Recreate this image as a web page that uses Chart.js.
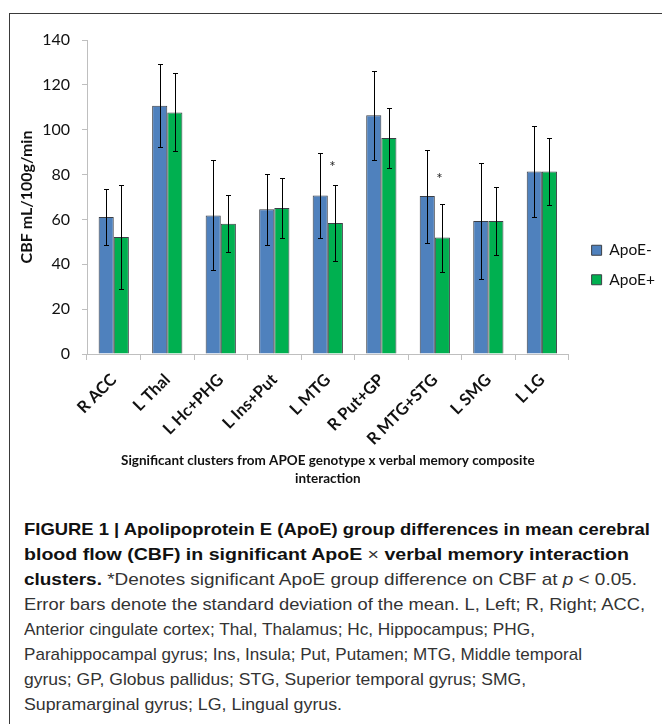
<!DOCTYPE html>
<html><head><meta charset="utf-8">
<script src="https://cdn.jsdelivr.net/npm/chart.js@4"></script>
<style>
html,body{margin:0;padding:0;width:662px;height:724px;overflow:hidden;background:#fff;}
#frame{position:absolute;left:9px;top:13px;width:720px;height:800px;border:1.5px solid #3a3a3a;box-sizing:border-box;}
#wrap{position:absolute;left:10px;top:14px;width:652px;height:480px;}
#caption{position:absolute;left:24px;top:517px;font-family:"Liberation Sans",Arial,sans-serif;font-size:17px;line-height:25px;white-space:nowrap;color:#333;}
#caption .ln{width:max-content;transform-origin:0 50%;}
#caption b{font-weight:700;color:#111}
</style></head>
<body>
<div id="frame"></div>
<div id="wrap"><canvas id="c" width="652" height="480"></canvas></div>
<div id="caption">
<div class="ln" data-right="650"><b>FIGURE 1 | Apolipoprotein E (ApoE) group differences in mean cerebral</b></div>
<div class="ln" data-right="629"><b>blood flow (CBF) in significant ApoE</b> × <b>verbal memory interaction</b></div>
<div class="ln" data-right="637"><b>clusters.</b> *Denotes significant ApoE group difference on CBF at <i>p</i> &lt; 0.05.</div>
<div class="ln" data-right="645">Error bars denote the standard deviation of the mean. L, Left; R, Right; ACC,</div>
<div class="ln" data-right="535">Anterior cingulate cortex; Thal, Thalamus; Hc, Hippocampus; PHG,</div>
<div class="ln" data-right="582">Parahippocampal gyrus; Ins, Insula; Put, Putamen; MTG, Middle temporal</div>
<div class="ln" data-right="526">gyrus; GP, Globus pallidus; STG, Superior temporal gyrus; SMG,</div>
<div class="ln" data-right="342">Supramarginal gyrus; LG, Lingual gyrus.</div>
</div>
<script>
const categories = ['R ACC','L Thal','L Hc+PHG','L Ins+Put','L MTG','R Put+GP','R MTG+STG','L SMG','L LG'];
const seriesNames = ['ApoE-','ApoE+'];
const apoeNegMean = [61.1, 110.7, 61.8, 64.5, 70.7, 106.4, 70.4, 59.3, 81.4];
const apoeNegSD   = [12.3, 18.4, 24.5, 15.7, 19.0, 19.9, 20.7, 26.0, 20.4];
const apoePosMean = [52.2, 107.7, 58.1, 65.1, 58.4, 96.3, 51.9, 59.3, 81.4];
const apoePosSD   = [23.0, 17.4, 12.8, 13.4, 16.8, 13.3, 15.2, 15.0, 15.0];
const yMin = 0, yMax = 140, yStep = 20;
const starCategories = ['L MTG','R MTG+STG'];
const starValues = [84.5, 79.5];
const xTitle = ['Significant clusters from APOE genotype x verbal memory composite','interaction'];
const yTitle = 'CBF mL/100g/min';

const sdSets = [apoeNegSD, apoePosSD];

// fit caption lines to the reference line lengths
document.querySelectorAll('#caption .ln').forEach(el => {
  const target = parseFloat(el.dataset.right) - 24;
  const w = el.getBoundingClientRect().width;
  if (w > 0) el.style.transform = 'scaleX(' + (target / w) + ')';
});

const errorBars = {
  id: 'errorBars',
  afterLayout(chart) {
    const lg = chart.legend;
    if (lg) { lg.left += 9; lg.right += 9; }
  },
  afterDatasetsDraw(chart) {
    const ctx = chart.ctx, ys = chart.scales.y;
    ctx.save();
    ctx.strokeStyle = '#000';
    ctx.lineWidth = 1;
    chart.data.datasets.forEach((ds, di) => {
      const meta = chart.getDatasetMeta(di);
      meta.data.forEach((bar, i) => {
        const m = ds.data[i], s = sdSets[di][i];
        const x = Math.round(bar.x) + 0.5;
        const yt = Math.round(ys.getPixelForValue(m + s)) + 0.5;
        const yb = Math.round(ys.getPixelForValue(m - s)) + 0.5;
        ctx.beginPath();
        ctx.moveTo(x, yt); ctx.lineTo(x, yb);
        ctx.moveTo(x - 2.5, yt); ctx.lineTo(x + 2.5, yt);
        ctx.moveTo(x - 2.5, yb); ctx.lineTo(x + 2.5, yb);
        ctx.stroke();
      });
    });
    // significance stars above the ApoE+ bar of the marked clusters
    const meta1 = chart.getDatasetMeta(1);
    ctx.fillStyle = '#222';
    ctx.font = '15px Lato';
    ctx.textAlign = 'center';
    ctx.textBaseline = 'middle';
    starCategories.forEach((cat, k) => {
      const idx = categories.indexOf(cat);
      const bar = meta1.data[idx];
      ctx.fillText('*', bar.x - 3, ys.getPixelForValue(starValues[k]) + 3);
    });
    ctx.restore();
  }
};

Chart.defaults.font.family = 'Lato';
new Chart(document.getElementById('c'), {
  type: 'bar',
  data: {
    labels: categories,
    datasets: [
      {label: seriesNames[0], data: apoeNegMean, backgroundColor: '#4F81BD', borderColor: '#3b3f46', borderWidth: 1, categoryPercentage: 0.565, barPercentage: 1.0},
      {label: seriesNames[1], data: apoePosMean, backgroundColor: '#00B050', borderColor: '#3b3f46', borderWidth: 1, categoryPercentage: 0.565, barPercentage: 1.0}
    ]
  },
  options: {
    responsive: false,
    animation: false,
    layout: {padding: {top: 26, bottom: 4, left: 0, right: 6}},
    plugins: {
      tooltip: {enabled: false},
      legend: {
        position: 'right', align: 'center',
        labels: {boxWidth: 10, boxHeight: 10, padding: 14, color: '#111', font: {family: 'Lato', size: 15.5}}
      }
    },
    scales: {
      x: {
        ticks: {autoSkip: false, minRotation: 45, maxRotation: 45, padding: 10, color: '#111', font: {family: 'Lato', size: 16.5, weight: 'bold'}},
        grid: {display: true, drawOnChartArea: false, offset: true, tickLength: 6, tickColor: '#bfbfbf'},
        border: {display: true, color: '#bfbfbf', width: 1},
        title: {display: true, text: xTitle, color: '#111', font: {family: 'Lato', size: 13.5, weight: 'bold', lineHeight: 1.33}, padding: {top: 4, bottom: 2}},
        afterFit(s) { s.height = 136; }
      },
      y: {
        min: yMin, max: yMax,
        ticks: {stepSize: yStep, padding: 12, color: '#111', font: {family: 'Lato', size: 16}},
        grid: {display: true, drawOnChartArea: false, tickLength: 5, tickColor: '#bfbfbf'},
        border: {display: true, color: '#bfbfbf', width: 1},
        title: {display: true, text: yTitle, color: '#111', font: {family: 'Lato', size: 16, weight: 'bold'}, padding: {top: 7, bottom: 0}},
        afterFit(s) { s.width = 77; }
      }
    }
  },
  plugins: [errorBars]
});
</script>
</body></html>
